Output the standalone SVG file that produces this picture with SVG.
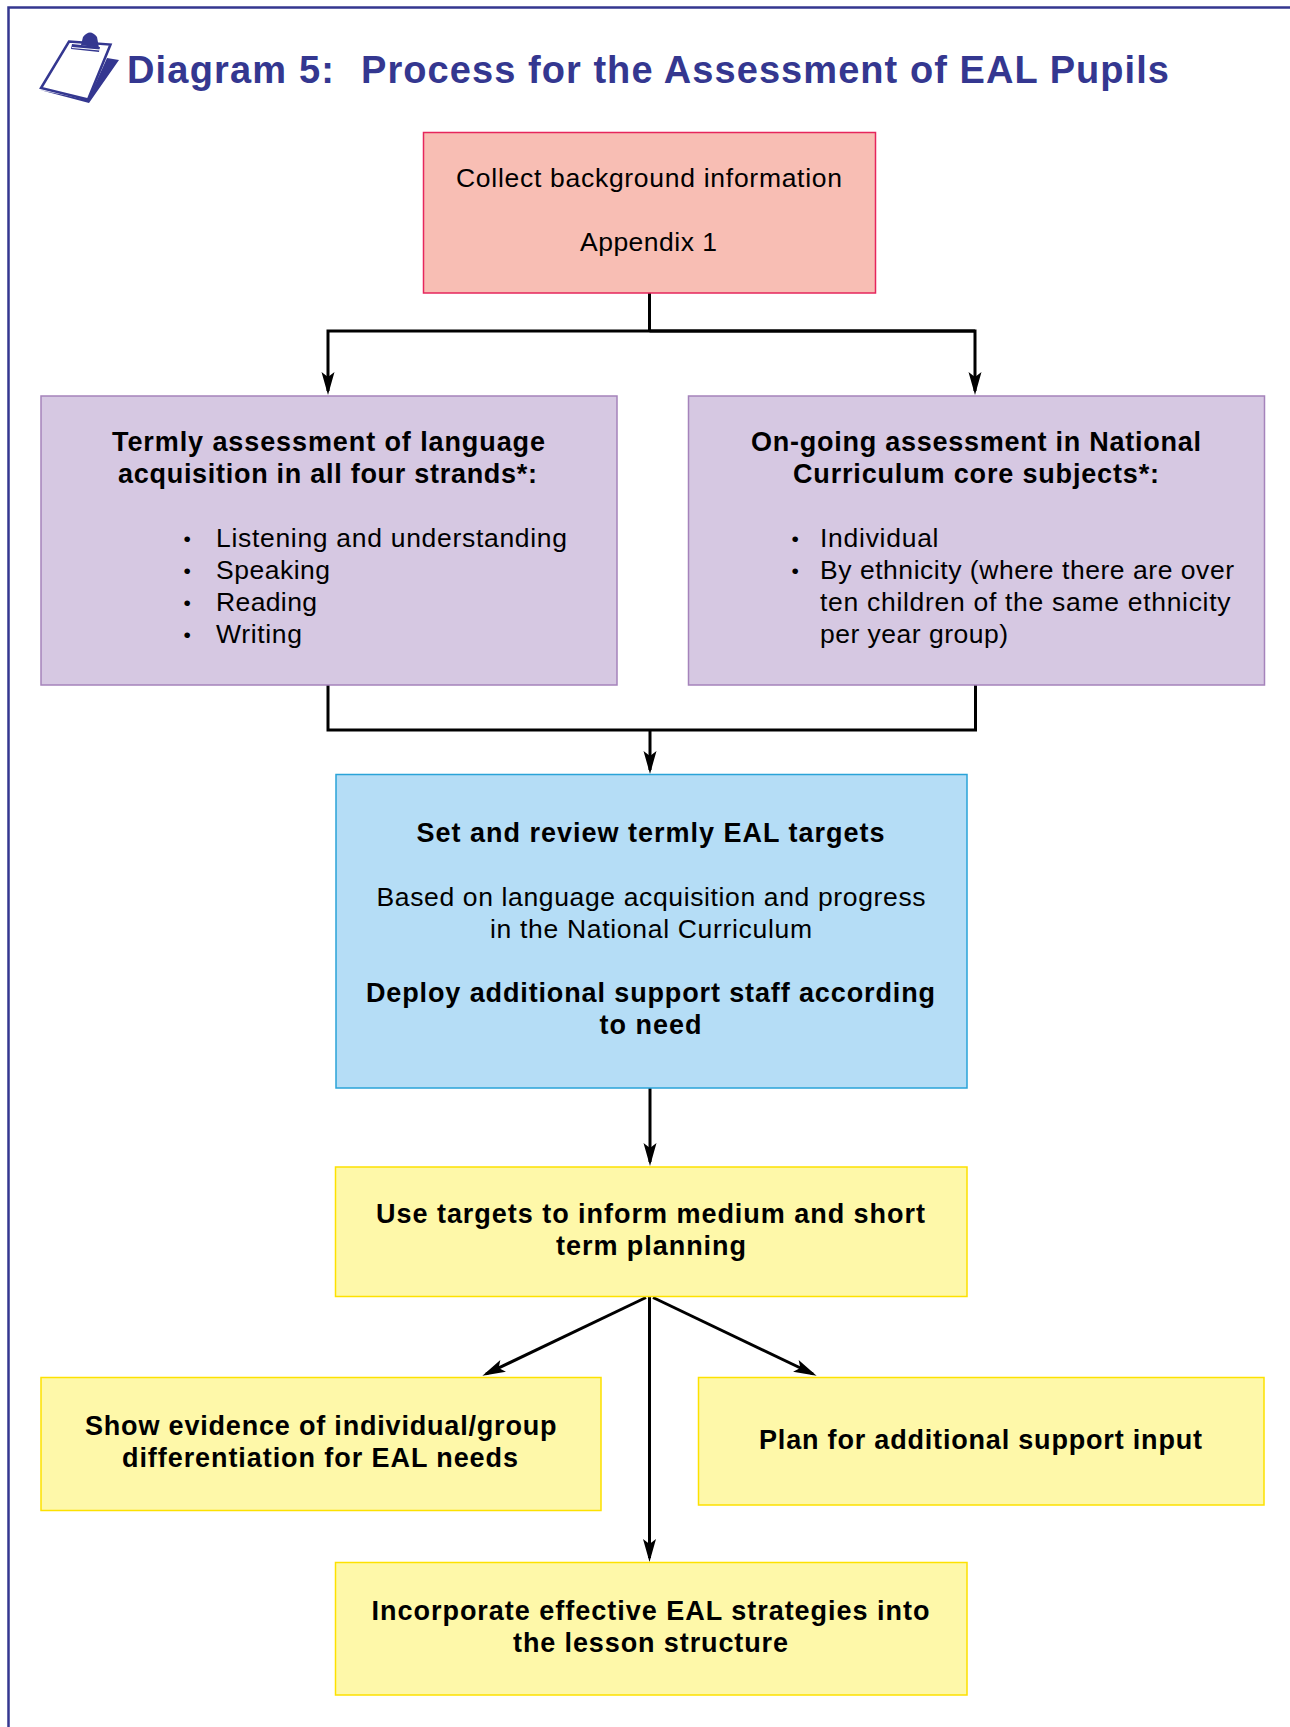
<svg xmlns="http://www.w3.org/2000/svg" width="1290" height="1727" viewBox="0 0 1290 1727">
<style>
text{font-family:"Liberation Sans",Arial,sans-serif;font-size:26.5px;fill:#000}
text.b{font-weight:700;font-size:27px}
text.d{font-size:21px}
.box{stroke-width:1.5}
.red{fill:#f8beb4;stroke:#e6265c}
.pur{fill:#d6c8e2;stroke:#a583bb}
.blu{fill:#b5ddf6;stroke:#2aa3d8}
.yel{fill:#fef8a9;stroke:#fde100}
.ln{fill:none;stroke:#000;stroke-width:3}
text.ttl{font-size:38px;font-weight:700;fill:#343790}
</style>
<defs>
<marker id="a" markerUnits="userSpaceOnUse" markerWidth="24" markerHeight="13" refX="19" refY="6.500" viewBox="0 0 24 13" orient="auto" overflow="visible"><path d="M0 0L23 6.500L0 13L5 6.500Z" fill="#000"/></marker>
</defs>
<rect width="1290" height="1727" fill="#fff"/>
<path d="M8.500 1727V7.500H1290" fill="none" stroke="#343790" stroke-width="2.500"/>
<g id="icon">
<path d="M69 41.500L110.500 44.500L88 99.500L41 88Z" fill="#fff" stroke="#343790" stroke-width="2.500"/>
<path d="M107 58L119 60L89 103L40 90L88 100Z" fill="#343790"/>
<path d="M72 44L100 47L99 52L71 49Z" fill="#343790"/>
<path d="M81 45L83 37Q90 28 97 37L99 48Z" fill="#343790"/>
<path d="M72 47.500L100 50" fill="none" stroke="#fff" stroke-width="1"/>
</g>
<text id="title1" class="ttl" x="127" y="83" textLength="207">Diagram 5:</text>
<text id="title2" class="ttl" x="361" y="83" textLength="808">Process for the Assessment of EAL Pupils</text>
<g id="connectors">
<path class="ln" d="M649.500 293V331"/>
<path class="ln" d="M975 331H328V391" marker-end="url(#a)"/>
<path class="ln" d="M649.500 331H975V391" marker-end="url(#a)"/>
<path class="ln" d="M328 685V730H975.500V685"/>
<path class="ln" d="M650 730V770" marker-end="url(#a)"/>
<path class="ln" d="M650 1088V1162" marker-end="url(#a)"/>
<path class="ln" d="M649.500 1297V1558" marker-end="url(#a)"/>
<path class="ln" d="M646 1297.500L486 1374" marker-end="url(#a)"/>
<path class="ln" d="M653 1297.500L813 1374" marker-end="url(#a)"/>
</g>
<g id="n1"><rect class="box red" x="423.500" y="132.500" width="452" height="160.500"/>
<text x="456" y="187" textLength="386">Collect background information</text>
<text x="580" y="251" textLength="137">Appendix 1</text></g>
<g id="n2"><rect class="box pur" x="41" y="396" width="576" height="289"/>
<text class="b" x="112" y="451" textLength="433">Termly assessment of language</text>
<text class="b" x="118" y="483" textLength="419">acquisition in all four strands*:</text>
<text class="d" x="183.500" y="546">•</text><text x="216" y="547" textLength="351">Listening and understanding</text>
<text class="d" x="183.500" y="578">•</text><text x="216" y="579" textLength="114">Speaking</text>
<text class="d" x="183.500" y="610">•</text><text x="216" y="611" textLength="101">Reading</text>
<text class="d" x="183.500" y="642">•</text><text x="216" y="643" textLength="86">Writing</text></g>
<g id="n3"><rect class="box pur" x="688.500" y="396" width="576" height="289"/>
<text class="b" x="751" y="451" textLength="450">On-going assessment in National</text>
<text class="b" x="793" y="483" textLength="366">Curriculum core subjects*:</text>
<text class="d" x="791.500" y="546">•</text><text x="820" y="547" textLength="118.500">Individual</text>
<text class="d" x="791.500" y="578">•</text><text x="820" y="579" textLength="414">By ethnicity (where there are over</text>
<text x="820" y="611" textLength="410.500">ten children of the same ethnicity</text>
<text x="820" y="643" textLength="188">per year group)</text></g>
<g id="n4"><rect class="box blu" x="336" y="774.500" width="631" height="313.500"/>
<text class="b" x="416.500" y="842" textLength="468">Set and review termly EAL targets</text>
<text x="376.500" y="906" textLength="549">Based on language acquisition and progress</text>
<text x="490" y="938" textLength="322">in the National Curriculum</text>
<text class="b" x="366" y="1002" textLength="569">Deploy additional support staff according</text>
<text class="b" x="599.500" y="1034" textLength="102">to need</text></g>
<g id="n5"><rect class="box yel" x="335.500" y="1167" width="631.500" height="129.500"/>
<text class="b" x="376" y="1223" textLength="549">Use targets to inform medium and short</text>
<text class="b" x="556" y="1255" textLength="190">term planning</text></g>
<g id="n6"><rect class="box yel" x="41" y="1377.500" width="560" height="133"/>
<text class="b" x="85" y="1435" textLength="471.500">Show evidence of individual/group</text>
<text class="b" x="122" y="1467" textLength="396">differentiation for EAL needs</text></g>
<g id="n7"><rect class="box yel" x="698.500" y="1377.500" width="565.500" height="127.500"/>
<text class="b" x="759" y="1449" textLength="443">Plan for additional support input</text></g>
<g id="n8"><rect class="box yel" x="335.500" y="1562.500" width="631.500" height="132.500"/>
<text class="b" x="371.500" y="1620" textLength="558">Incorporate effective EAL strategies into</text>
<text class="b" x="513" y="1652" textLength="275">the lesson structure</text></g>
</svg>
